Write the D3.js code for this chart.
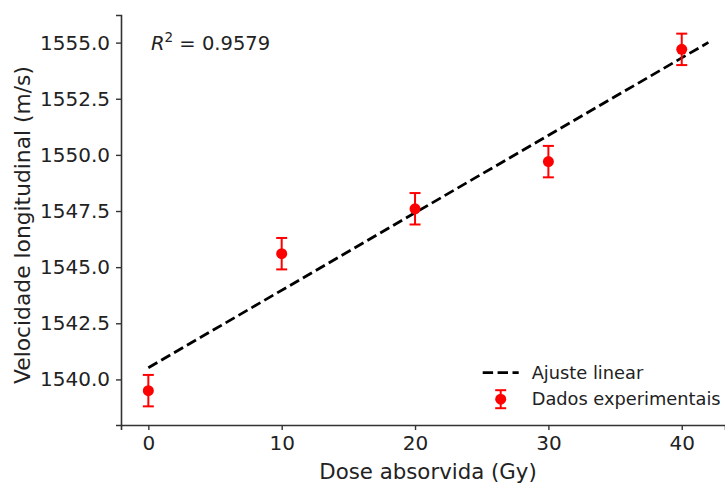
<!DOCTYPE html>
<html>
<head>
<meta charset="utf-8">
<script src="https://cdn.jsdelivr.net/npm/d3@7"></script>
<style>
  body { margin: 0; background: #fff; }
  text { font-family: "DejaVu Sans", sans-serif; fill: #222; }
</style>
</head>
<body>
<div id="chart"></div>
<script>
// Experimental data
const doses = [0, 10, 20, 30, 40];
const velocities = [1539.5, 1545.6, 1547.6, 1549.7, 1554.7];
const errors = [0.7, 0.7, 0.7, 0.7, 0.7];

// Linear fit endpoints
const fitX = [0, 42];
const fitY = [1540.52, 1555.01];

const xTicks = [0, 10, 20, 30, 40];
const yTicks = [1540.0, 1542.5, 1545.0, 1547.5, 1550.0, 1552.5, 1555.0];
const r2Label = "0.9579";

const W = 725, H = 484;
const margin = { top: 15, right: 0, bottom: 59, left: 121 };
const width = W - margin.left - margin.right;
const height = H - margin.top - margin.bottom;

const svg = d3.select("#chart").append("svg")
    .attr("width", W)
    .attr("height", H);

const g = svg.append("g")
    .attr("transform", "translate(" + margin.left + "," + margin.top + ")");

// Scales (x range cropped on the right like the original)
const x = d3.scaleLinear()
    .domain([-2.05, -2.05 + width / 13.335])
    .range([0, width]);
const y = d3.scaleLinear()
    .domain([1537.97, 1556.23])
    .range([height, 0]);

// Axes
const xAxis = g.append("g")
    .attr("transform", "translate(0," + height + ")")
    .call(d3.axisBottom(x).tickValues(xTicks).tickFormat(d3.format("d")).tickSizeOuter(0).tickSize(5).tickPadding(6));
const yAxis = g.append("g")
    .call(d3.axisLeft(y).tickValues(yTicks).tickFormat(d3.format(".1f")).tickSizeOuter(0).tickSize(5).tickPadding(6));

[xAxis, yAxis].forEach(a => {
    a.select(".domain").attr("stroke", "#333").attr("stroke-width", 1.6);
    a.selectAll(".tick line").attr("stroke", "#333").attr("stroke-width", 1.4);
    a.selectAll(".tick text").style("font-size", "20px").attr("fill", "#222");
});

// Axis titles
g.append("text")
    .attr("x", x(20) + 13)
    .attr("y", height + 54)
    .attr("text-anchor", "middle")
    .style("font-size", "21.3px")
    .text("Dose absorvida (Gy)");

g.append("text")
    .attr("transform", "rotate(-90)")
    .attr("x", -210)
    .attr("y", -91)
    .attr("text-anchor", "middle")
    .style("font-size", "21.8px")
    .text("Velocidade longitudinal (m/s)");

// Fit line
g.append("path")
    .datum(fitX.map((d, i) => [d, fitY[i]]))
    .attr("fill", "none")
    .attr("stroke", "#000")
    .attr("stroke-width", 2.8)
    .attr("stroke-dasharray", "10.4,4.5")
    .attr("d", d3.line().x(d => x(d[0])).y(d => y(d[1])));

// Error bars
const pts = g.selectAll(".pt")
    .data(doses.map((d, i) => ({ x: d, y: velocities[i], e: errors[i] })))
    .join("g");

pts.append("line")
    .attr("x1", d => x(d.x)).attr("x2", d => x(d.x))
    .attr("y1", d => y(d.y - d.e)).attr("y2", d => y(d.y + d.e))
    .attr("stroke", "red").attr("stroke-width", 2);
pts.append("line")
    .attr("x1", d => x(d.x) - 5.5).attr("x2", d => x(d.x) + 5.5)
    .attr("y1", d => y(d.y + d.e)).attr("y2", d => y(d.y + d.e))
    .attr("stroke", "red").attr("stroke-width", 2);
pts.append("line")
    .attr("x1", d => x(d.x) - 5.5).attr("x2", d => x(d.x) + 5.5)
    .attr("y1", d => y(d.y - d.e)).attr("y2", d => y(d.y - d.e))
    .attr("stroke", "red").attr("stroke-width", 2);
pts.append("circle")
    .attr("cx", d => x(d.x)).attr("cy", d => y(d.y))
    .attr("r", 5.5)
    .attr("fill", "red");

// R^2 annotation
const r2 = g.append("text")
    .attr("x", 30)
    .attr("y", 35)
    .style("font-size", "19.5px");
r2.append("tspan").style("font-style", "italic").text("R");
r2.append("tspan").attr("dy", -8).style("font-size", "13.5px").text("2");
r2.append("tspan").attr("dy", 8).text(" = " + r2Label);

// Legend
const leg = g.append("g").attr("transform", "translate(" + (482.7 - margin.left) + "," + (372.7 - margin.top) + ")");
leg.append("line")
    .attr("x1", 0).attr("x2", 36).attr("y1", 0).attr("y2", 0)
    .attr("stroke", "#000").attr("stroke-width", 2.8)
    .attr("stroke-dasharray", "10.4,4.5");
leg.append("text").attr("x", 49).attr("y", 6.5).style("font-size", "17.8px").text("Ajuste linear");

const lm = leg.append("g").attr("transform", "translate(18,26.5)");
lm.append("line").attr("x1", 0).attr("x2", 0).attr("y1", -9).attr("y2", 9)
    .attr("stroke", "red").attr("stroke-width", 2);
lm.append("line").attr("x1", -5.5).attr("x2", 5.5).attr("y1", -9).attr("y2", -9)
    .attr("stroke", "red").attr("stroke-width", 2);
lm.append("line").attr("x1", -5.5).attr("x2", 5.5).attr("y1", 9).attr("y2", 9)
    .attr("stroke", "red").attr("stroke-width", 2);
lm.append("circle").attr("r", 5.5).attr("fill", "red");
leg.append("text").attr("x", 49).attr("y", 32.5).style("font-size", "17.8px").text("Dados experimentais");
</script>
</body>
</html>
